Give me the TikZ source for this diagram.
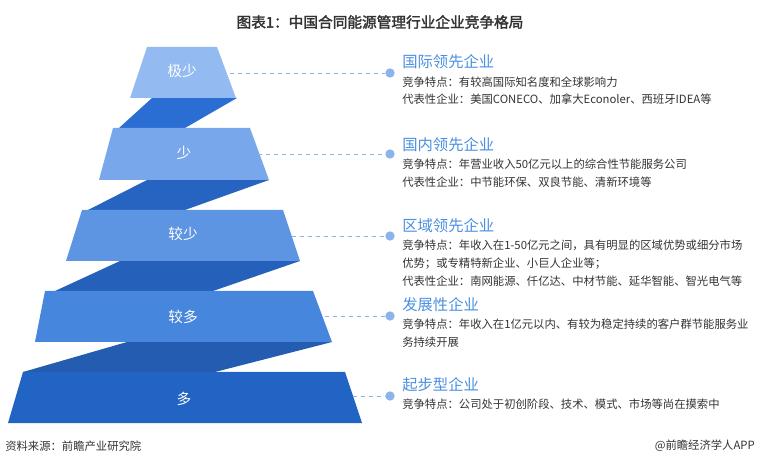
\documentclass[tikz,border=0pt]{standalone}
\usepackage{fontspec}
\setmainfont{Noto Sans CJK SC}
\newfontfamily\cjkbold[FakeBold=2]{Noto Sans CJK SC}
\usetikzlibrary{positioning}
\definecolor{layerA}{HTML}{93BBF1}
\definecolor{layerB}{HTML}{78A8EB}
\definecolor{layerC}{HTML}{5D95E3}
\definecolor{layerD}{HTML}{4686DC}
\definecolor{layerE}{HTML}{2264C3}
\definecolor{ribbon}{HTML}{2A6DD3}
\definecolor{headblue}{HTML}{4A8FE0}
\definecolor{dotblue}{HTML}{8DB4EA}
\definecolor{bodygray}{HTML}{333333}
\begin{document}
\begin{tikzpicture}[x=0.75pt,y=-0.75pt]
    \tikzstyle{level}=[text=white,font=\fontsize{11}{13}\selectfont]
    \tikzstyle{heading}=[anchor=west,inner sep=0pt,text=headblue,font=\fontsize{11.5}{13}\selectfont]
    \tikzstyle{body}=[anchor=north west,inner sep=0pt,text=bodygray,align=left,font=\fontsize{8.5}{13.4}\selectfont]
    \tikzstyle{dot}=[shape=circle,fill=dotblue,inner sep=0pt,minimum size=7pt]
    \tikzstyle{leader}=[draw=dotblue,dashed,thin]

    \useasboundingbox (0,0) rectangle (760,466);

    % ribbons between the layers
    \fill[ribbon] (152,98) -- (237,98) -- (185,128) -- (119,128) -- cycle;
    \fill[ribbon!92!black] (147,180) -- (269,180) -- (185,210) -- (88,210) -- cycle;
    \fill[ribbon!88!black] (120,261) -- (300,261) -- (213,291) -- (55,291) -- cycle;
    \fill[ribbon!84!black] (127,342) -- (332,342) -- (215,372) -- (23,372) -- cycle;

    % layers
    \fill[layerA] (147,47) -- (217,47) -- (236,98) -- (130,98) -- cycle;
    \fill[layerB] (113,128) -- (250,128) -- (269,180) -- (99,180) -- cycle;
    \fill[layerC] (82,210) -- (283,210) -- (300,261) -- (66,261) -- cycle;
    \fill[layerD] (45,291) -- (313,291) -- (332,342) -- (35,342) -- cycle;
    \fill[layerE] (23,372) -- (345,372) -- (362,423) -- (8,423) -- cycle;

    \node[level] (L1) at (182,71) {极少};
    \node[level] (L2) at (184,153) {少};
    \node[level] (L3) at (183,234) {较少};
    \node[level] (L4) at (183,317) {较多};
    \node[level] (L5) at (184,399) {多};

    \coordinate (E1) at (230,73);
    \coordinate (E2) at (258,154);
    \coordinate (E3) at (292,236);
    \coordinate (E4) at (325,316);
    \coordinate (E5) at (353,396);

    \node[dot] (D1) at (390,73) {};
    \node[dot] (D2) at (390,154) {};
    \node[dot] (D3) at (390,236) {};
    \node[dot] (D4) at (390,316) {};
    \node[dot] (D5) at (390,396) {};

    \node[heading] (H1) at (402,62) {国际领先企业};
    \node[body] (T1) at ([yshift=-5pt]H1.south west) {竞争特点：有较高国际知名度和全球影响力\\代表性企业：美国CONECO、加拿大Econoler、西班牙IDEA等};
    \node[heading] (H2) at (402,145) {国内领先企业};
    \node[body] (T2) at ([yshift=-5pt]H2.south west) {竞争特点：年营业收入50亿元以上的综合性节能服务公司\\代表性企业：中节能环保、双良节能、清新环境等};
    \node[heading] (H3) at (402,226) {区域领先企业};
    \node[body] (T3) at ([yshift=-5pt]H3.south west) {竞争特点：年收入在1-50亿元之间，具有明显的区域优势或细分市场\\优势；或专精特新企业、小巨人企业等；\\代表性企业：南网能源、仟亿达、中材节能、延华智能、智光电气等};
    \node[heading] (H4) at (402,305) {发展性企业};
    \node[body] (T4) at ([yshift=-5pt]H4.south west) {竞争特点：年收入在1亿元以内、有较为稳定持续的客户群节能服务业\\务持续开展};
    \node[heading] (H5) at (402,385) {起步型企业};
    \node[body] (T5) at ([yshift=-5pt]H5.south west) {竞争特点：公司处于初创阶段、技术、模式、市场等尚在摸索中};

    \node[font=\cjkbold\fontsize{11}{13}\selectfont,text=bodygray] (title) at (380,22) {图表1：中国合同能源管理行业企业竞争格局};
    \node[anchor=west,inner sep=0pt,font=\fontsize{8.5}{10}\selectfont,text=bodygray] (source) at (5,446) {资料来源：前瞻产业研究院};
    \node[anchor=east,inner sep=0pt,font=\fontsize{8.5}{10}\selectfont,text=bodygray] (app) at (755,446) {@前瞻经济学人APP};

    \path[leader]
    (E1) edge (D1)
    (E2) edge (D2)
    (E3) edge (D3)
    (E4) edge (D4)
    (E5) edge (D5);
\end{tikzpicture}
\end{document}
